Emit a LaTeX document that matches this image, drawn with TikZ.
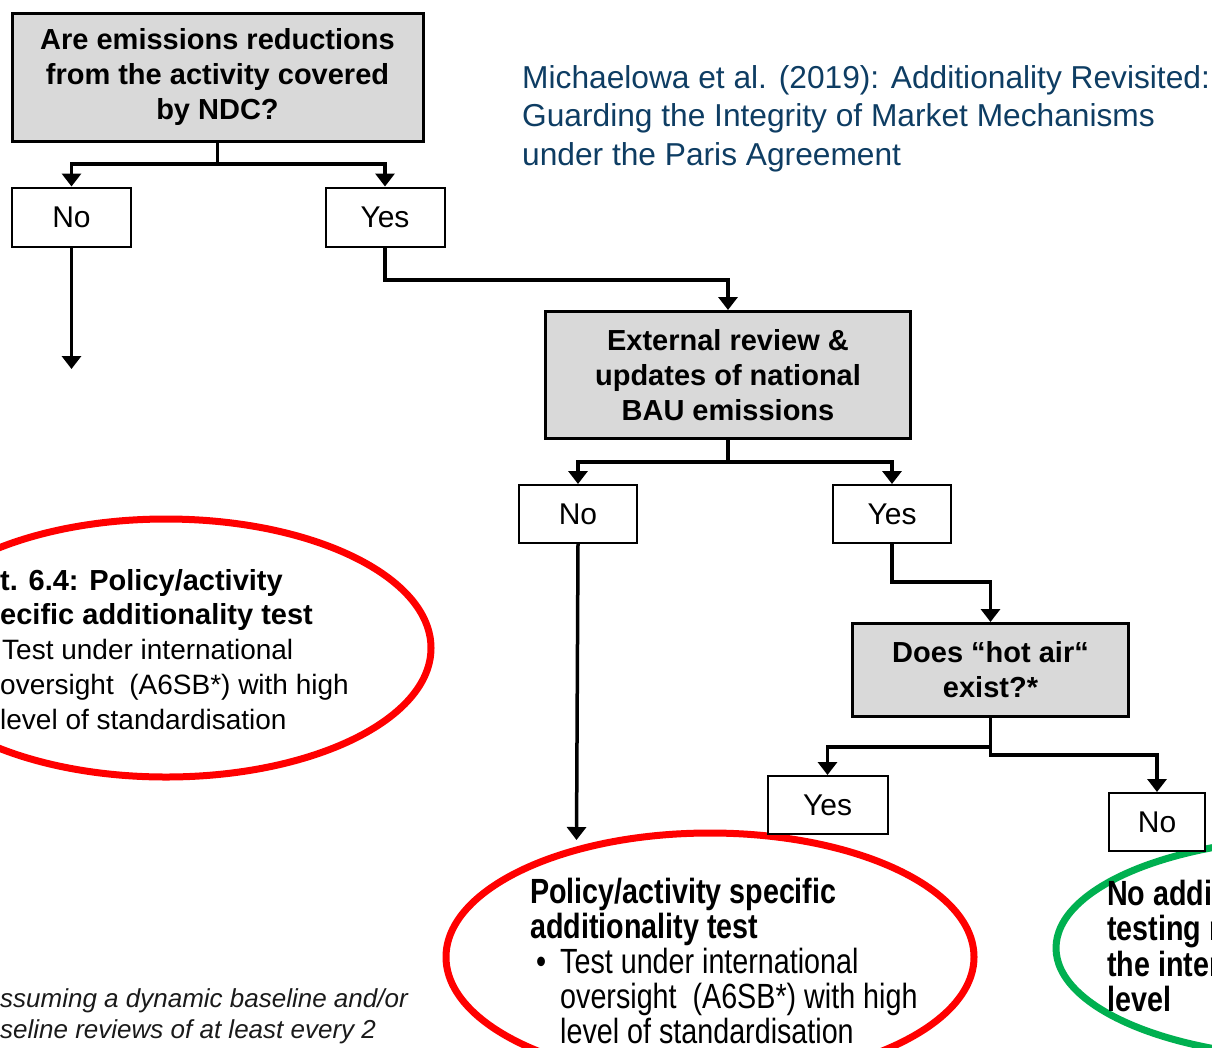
\documentclass[tikz,border=0pt]{standalone}
\usepackage{fontspec}
\setmainfont{Liberation Sans}
\newfontfamily\narrowfont[FakeStretch=0.82]{Liberation Sans}
\usetikzlibrary{arrows.meta,shapes.geometric}
\definecolor{boxgray}{HTML}{D9D9D9}
\definecolor{citeblue}{HTML}{0E3D63}
\definecolor{ovalred}{HTML}{FF0000}
\definecolor{ovalgreen}{HTML}{00B050}
\definecolor{notegray}{HTML}{1A1A1A}
\begin{document}
\begin{tikzpicture}[x=1pt,y=-1pt,
  qbox/.style={draw=black, line width=3pt, fill=boxgray, align=center, inner sep=0pt,
    font=\fontsize{29}{35}\selectfont\bfseries},
  ansbox/.style={draw=black, line width=2pt, fill=white, inner sep=0pt,
    font=\fontsize{30}{34}\selectfont},
  plain/.style={line width=3.5pt},
  conn/.style={line width=3.5pt, -{Triangle[width=19pt,length=13pt]}},
  oval/.style={ellipse, line width=7pt, inner sep=0pt},
  txt/.style={anchor=north west, align=left, inner sep=0pt}]
\useasboundingbox (0,0) rectangle (1212,1047);
\clip (0,0) rectangle (1212,1047);

% ovals
\node[oval, draw=ovalred, minimum width=530pt, minimum height=258pt] (ovalL) at (166,648) {};
\node[oval, draw=ovalred, minimum width=528pt, minimum height=248pt] (ovalB) at (710,957) {};
\node[oval, draw=ovalgreen, minimum width=530pt, minimum height=220pt] (ovalG) at (1321,948) {};

% question boxes
\node[qbox, minimum width=411pt, minimum height=128pt] (q1) at (217.5,77)
  {Are emissions reductions\\from the activity covered\\by NDC?};
\node[qbox, minimum width=365pt, minimum height=127pt] (q2) at (728,375)
  {External review \&\\updates of national\\BAU emissions};
\node[qbox, minimum width=276pt, minimum height=93pt] (q3) at (990.5,670)
  {Does “hot air“\\exist?*};

% answer boxes
\node[ansbox, minimum width=119pt, minimum height=59pt] (no1) at (71.5,217) {No};
\node[ansbox, minimum width=119pt, minimum height=59pt] (yes1) at (385,217) {Yes};
\node[ansbox, minimum width=118pt, minimum height=58pt] (no2) at (578,514) {No};
\node[ansbox, minimum width=118pt, minimum height=58pt] (yes2) at (892,514) {Yes};
\node[ansbox, minimum width=120pt, minimum height=58pt] (yes3) at (827.5,805) {Yes};
\node[ansbox, minimum width=96pt, minimum height=58pt] (no3) at (1157,822) {No};

% connectors
\coordinate (j1) at (217.5,164);
\draw[plain] (q1.south) -- (j1);
\draw[conn] (j1) -| (no1.north);
\draw[conn] (j1) -| (yes1.north);
\coordinate (noEnd1) at (71.5,369);
\draw[conn] (no1.south) -- (noEnd1);
\coordinate (b1) at (385,280);
\draw[conn] (yes1.south) -- (b1) -| (q2.north);

\coordinate (j2) at (728,462);
\draw[plain] (q2.south) -- (j2);
\draw[conn] (j2) -| (no2.north);
\draw[conn] (j2) -| (yes2.north);
\coordinate (noEnd2) at (576.5,840);
\draw[conn] (no2.south) -- (noEnd2);
\coordinate (b2) at (892,582);
\draw[conn] (yes2.south) -- (b2) -| (q3.north);

\coordinate (j3) at (990.5,747);
\coordinate (j4) at (990.5,755);
\draw[plain] (q3.south) -- (j3);
\draw[conn] (j3) -| (yes3.north);
\draw[conn] (j3) -- (j4) -| (no3.north);

% citation
\node[txt, text=citeblue, font=\fontsize{31.7}{38.5}\selectfont] (cite) at (522,65)
  {Michaelowa et al. (2019): Additionality Revisited:\\Guarding the Integrity of Market Mechanisms\\under the Paris Agreement};

% left oval text
\node[txt, font=\fontsize{28}{34.75}\selectfont] (txtL) at (0,569)
  {\textbf{\fontsize{29}{34.75}\selectfont t. 6.4: Policy/activity}\\
   \textbf{\fontsize{29}{34.75}\selectfont ecific additionality test}\\
   \hspace*{2pt}Test under international\\
   oversight\ \ (A6SB*) with high\\
   level of standardisation};

% bottom oval text
\node[txt, font=\narrowfont\fontsize{35}{35}\selectfont] (txtB) at (530,878)
  {\textbf{Policy/activity specific}\\
   \textbf{additionality test}\\
   \hspace*{6pt}\makebox[24pt][l]{•}Test under international\\
   \hspace*{30pt}oversight\ \ (A6SB*) with high\\
   \hspace*{30pt}level of standardisation};

% green oval text
\node[txt, font=\narrowfont\fontsize{35}{35.3}\selectfont\bfseries] (txtG) at (1107,880)
  {No addi\\testing r\\the inter\\level};

% footnote
\node[txt, text=notegray, font=\fontsize{26}{31}\selectfont\itshape] (note) at (0,988)
  {ssuming a dynamic baseline and/or\\seline reviews of at least every 2};
\end{tikzpicture}
\end{document}
